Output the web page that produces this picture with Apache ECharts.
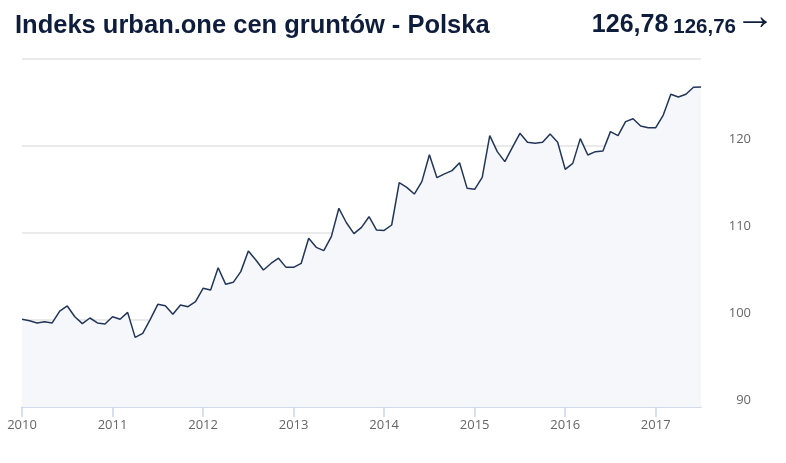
<!DOCTYPE html>
<html>
<head>
    <meta charset="utf-8">
    <title>Indeks urban.one cen gruntów - Polska</title>
    <style>
        html, body {
            margin: 0;
            padding: 0;
            background-color: #fff;
        }
        #chart {
            width: 786px;
            height: 463px;
        }
    </style>
</head>
<body>
    <div id="chart"></div>
    <script src="https://cdn.jsdelivr.net/npm/echarts@6/dist/echarts.min.js"></script>
    <script>
        // monthly index values, Jan 2010 .. Jul 2017
        var startYear = 2010;
        var values = [
            100.08, 99.92, 99.66, 99.81, 99.66, 101.03, 101.61, 100.38, 99.58, 100.23, 99.66, 99.54,
            100.38, 100.08, 100.88, 98.00, 98.47, 100.08, 101.80, 101.65, 100.65, 101.72, 101.53, 102.10,
            103.64, 103.45, 106.00, 104.10, 104.33, 105.56, 107.93, 106.90, 105.75, 106.50, 107.10, 106.05,
            106.05, 106.50, 109.39, 108.35, 107.97, 109.58, 112.84, 111.18, 109.92, 110.65, 111.87, 110.34,
            110.30, 110.92, 115.78, 115.25, 114.48, 115.90, 119.00, 116.36, 116.80, 117.17, 118.08, 115.13,
            115.02, 116.40, 121.19, 119.35, 118.20, 119.85, 121.46, 120.43, 120.31, 120.43, 121.38, 120.43,
            117.32, 118.00, 120.85, 118.97, 119.35, 119.43, 121.65, 121.19, 122.80, 123.14, 122.30, 122.10,
            122.10, 123.56, 125.94, 125.63, 125.94, 126.76, 126.78
        ];
        var yTicks = [90, 100, 110, 120, 130];
        var lastValue = '126,78';
        var prevValue = '126,76';

        var months = [];
        for (var i = 0; i < values.length; i++) {
            var y = startYear + Math.floor(i / 12);
            var m = (i % 12) + 1;
            months.push(y + '-' + (m < 10 ? '0' + m : m));
        }

        var isJanuary = function (index) {
            return index % 12 === 0;
        };

        var myChart = echarts.init(document.getElementById('chart'));

        var option = {
            animation: false,
            title: [
                {
                    text: 'Indeks urban.one cen gruntów - Polska',
                    left: 10,
                    top: 8,
                    textStyle: {
                        fontFamily: 'Liberation Sans',
                        fontSize: 25.5,
                        fontWeight: 'bold',
                        color: '#0f1d3d'
                    }
                },
                {
                    text: '{big|' + lastValue + '} {small|' + prevValue + '}',
                    right: 45,
                    top: 8,
                    textStyle: {
                        rich: {
                            big: {
                                fontFamily: 'Liberation Sans',
                                fontSize: 25,
                                fontWeight: 'bold',
                                color: '#0f1d3d'
                            },
                            small: {
                                fontFamily: 'Liberation Sans',
                                fontSize: 20.5,
                                fontWeight: 'bold',
                                color: '#0f1d3d',
                                padding: [3, 0, 0, 0]
                            }
                        }
                    }
                },
                {
                    text: '→',
                    right: 6,
                    top: -7,
                    textStyle: {
                        fontFamily: 'Liberation Sans',
                        fontSize: 40,
                        fontWeight: 'normal',
                        color: '#0f1d3d'
                    }
                }
            ],
            grid: {
                left: 22,
                right: 85,
                top: 59,
                bottom: 56
            },
            xAxis: {
                type: 'category',
                data: months,
                boundaryGap: false,
                axisLine: {
                    lineStyle: { color: '#ccd6eb', width: 1.5 }
                },
                axisTick: {
                    interval: function (index) { return isJanuary(index); },
                    length: 10,
                    lineStyle: { color: '#ccd6eb', width: 1.5 }
                },
                axisLabel: {
                    interval: function (index) { return isJanuary(index); },
                    formatter: function (val) { return val.substring(0, 4); },
                    margin: 12,
                    fontFamily: 'Open Sans',
                    fontSize: 13,
                    color: '#666666'
                },
                splitLine: { show: false }
            },
            yAxis: {
                type: 'value',
                position: 'right',
                min: yTicks[0],
                max: yTicks[yTicks.length - 1],
                interval: 10,
                axisLine: { show: false },
                axisTick: { show: false },
                axisLabel: {
                    align: 'right',
                    verticalAlign: 'bottom',
                    margin: 50,
                    fontFamily: 'Open Sans',
                    fontSize: 13,
                    color: '#666666',
                    formatter: function (v) {
                        return v === yTicks[yTicks.length - 1] ? '' : v;
                    }
                },
                splitLine: {
                    lineStyle: { color: '#e3e3e3', width: 1.5 }
                }
            },
            series: [
                {
                    type: 'line',
                    data: values,
                    symbol: 'none',
                    lineStyle: { color: '#22365a', width: 1.5 },
                    areaStyle: { color: '#f5f7fa', opacity: 1 }
                }
            ]
        };

        myChart.setOption(option);
    </script>
</body>
</html>
